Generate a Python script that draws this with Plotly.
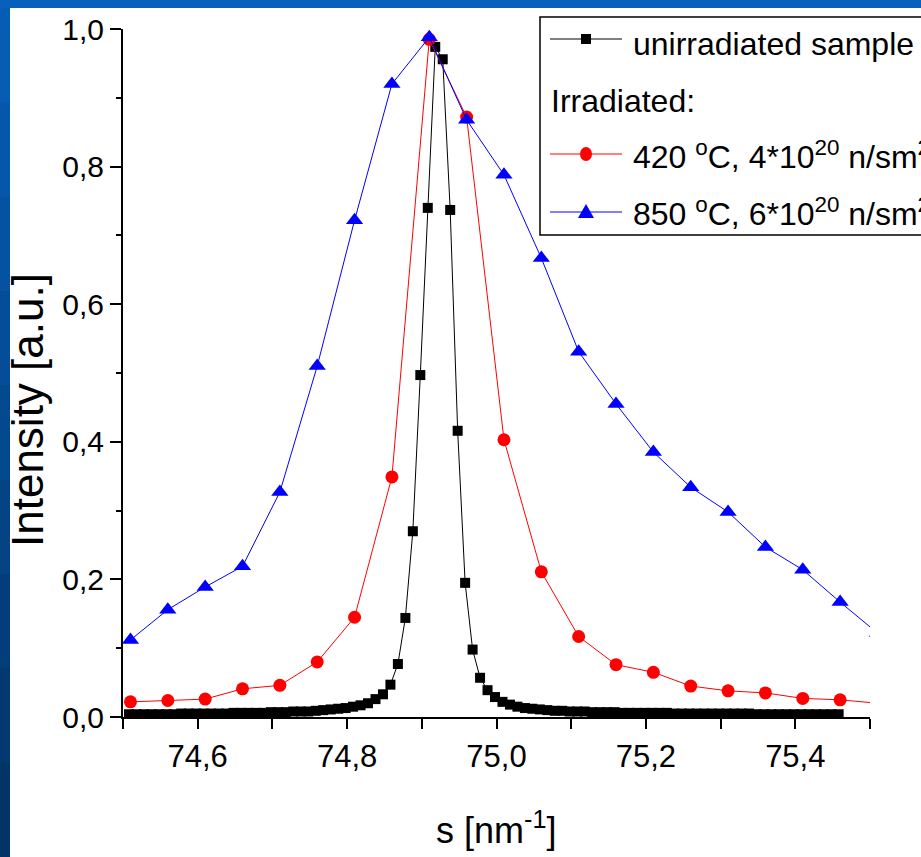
import plotly.graph_objects as go

# ---- data -------------------------------------------------------------
# scattering vector for the two irradiated samples
s_irr = [74.51, 74.56, 74.61, 74.66, 74.71, 74.76, 74.81, 74.86, 74.91, 74.96,
         75.01, 75.06, 75.11, 75.16, 75.21, 75.26, 75.31, 75.36, 75.41, 75.46, 75.51]

int_420 = [0.022, 0.024, 0.026, 0.041, 0.046, 0.080, 0.145, 0.349, 0.985, 0.872,
           0.403, 0.211, 0.117, 0.076, 0.065, 0.045, 0.038, 0.035, 0.027, 0.025, 0.020]

int_850 = [0.112, 0.156, 0.189, 0.219, 0.327, 0.510, 0.722, 0.920, 0.988, 0.868,
           0.788, 0.667, 0.531, 0.455, 0.385, 0.334, 0.298, 0.247, 0.214, 0.167, 0.122]

# scattering vector for the unirradiated sample (finer step)
s_unirr = [
    74.508, 74.518, 74.528, 74.538, 74.548, 74.558, 74.568, 74.578, 74.588, 74.598,
    74.608, 74.618, 74.628, 74.638, 74.648, 74.658, 74.668, 74.678, 74.688, 74.698,
    74.708, 74.718, 74.728, 74.738, 74.748, 74.758, 74.768, 74.778, 74.788, 74.798,
    74.808, 74.818, 74.828, 74.838, 74.848, 74.858, 74.868, 74.878, 74.888, 74.898,
    74.908, 74.918, 74.928, 74.938, 74.948, 74.958, 74.968, 74.978, 74.988, 74.998,
    75.008, 75.018, 75.028, 75.038, 75.048, 75.058, 75.068, 75.078, 75.088, 75.098,
    75.108, 75.118, 75.128, 75.138, 75.148, 75.158, 75.168, 75.178, 75.188, 75.198,
    75.208, 75.218, 75.228, 75.238, 75.248, 75.258, 75.268, 75.278, 75.288, 75.298,
    75.308, 75.318, 75.328, 75.338, 75.348, 75.358, 75.368, 75.378, 75.388, 75.398,
    75.408, 75.418, 75.428, 75.438, 75.448, 75.458]

int_unirr = [
    0.004, 0.004, 0.004, 0.004, 0.004, 0.004, 0.004, 0.005, 0.005, 0.005,
    0.005, 0.005, 0.005, 0.005, 0.006, 0.006, 0.006, 0.006, 0.006, 0.007,
    0.007, 0.007, 0.008, 0.008, 0.008, 0.009, 0.010, 0.011, 0.012, 0.013,
    0.015, 0.017, 0.020, 0.026, 0.033, 0.047, 0.077, 0.144, 0.270, 0.497,
    0.740, 0.974, 0.956, 0.737, 0.416, 0.195, 0.098, 0.057, 0.039, 0.029,
    0.022, 0.018, 0.015, 0.013, 0.012, 0.011, 0.010, 0.009, 0.009, 0.008,
    0.008, 0.008, 0.007, 0.007, 0.007, 0.007, 0.006, 0.006, 0.006, 0.006,
    0.006, 0.006, 0.006, 0.005, 0.005, 0.005, 0.005, 0.005, 0.005, 0.005,
    0.005, 0.005, 0.005, 0.005, 0.004, 0.004, 0.004, 0.004, 0.004, 0.004,
    0.004, 0.004, 0.004, 0.004, 0.004, 0.004]

series_names = ["unirradiated sample",
                "420 <sup>o</sup>C, 4*10<sup>20</sup> n/sm<sup>2</sup>",
                "850 <sup>o</sup>C, 6*10<sup>20</sup> n/sm<sup>2</sup>"]
group_label = "Irradiated:"

# ---- page geometry (pixels) ------------------------------------------
W, H = 921, 857
L, R, T, B = 123, 870, 29, 717          # plot area edges

def px(x):   # pixel x -> paper x
    return (x - L) / (R - L)

def py(y):   # pixel y -> paper y
    return (B - y) / (B - T)

FONT = "Liberation Sans, Arial, sans-serif"

fig = go.Figure()

fig.add_trace(go.Scatter(
    x=s_unirr, y=int_unirr, mode="lines+markers", name=series_names[0],
    line=dict(color="black", width=1),
    marker=dict(symbol="square", size=10, color="black"),
    showlegend=False))
fig.add_trace(go.Scatter(
    x=s_irr, y=int_420, mode="lines+markers", name=series_names[1],
    line=dict(color="#ff0000", width=1),
    marker=dict(symbol="circle", size=13, color="#ff0000"),
    showlegend=False))
fig.add_trace(go.Scatter(
    x=s_irr, y=int_850, mode="lines+markers", name=series_names[2],
    line=dict(color="#0000ff", width=1),
    marker=dict(symbol="triangle-up", size=15, color="#0000ff"),
    showlegend=False))

shapes = []
# white slide panel on the blue background
shapes.append(dict(type="rect", xref="paper", yref="paper", layer="below",
                   x0=px(10), x1=px(W + 5), y0=py(H + 5), y1=py(8),
                   fillcolor="white", line=dict(width=0)))
# darker gradient along the left slide border
left_cols = ["#075cb4", "#0657ab", "#0552a2", "#054d98", "#04488e",
             "#044384", "#033e7a", "#033970", "#023466"]
band = (H - 8) / len(left_cols)
for k, c in enumerate(left_cols):
    shapes.append(dict(type="rect", xref="paper", yref="paper", layer="below",
                       x0=px(-2), x1=px(10), y0=py(8 + (k + 1) * band + 1),
                       y1=py(8 + k * band), fillcolor=c, line=dict(width=0)))

# legend frame
shapes.append(dict(type="rect", xref="paper", yref="paper",
                   x0=px(540), x1=px(W + 20), y0=py(235), y1=py(17),
                   fillcolor="white", line=dict(color="black", width=1.5)))

# legend samples
rows = [(39, "black", "square"), (154, "#ff0000", "circle"), (212, "#0000ff", "triangle")]
for yy, col, sym in rows:
    shapes.append(dict(type="line", xref="paper", yref="paper",
                       x0=px(550), x1=px(622), y0=py(yy), y1=py(yy),
                       line=dict(color=col, width=1)))
    cx = 586
    if sym == "square":
        shapes.append(dict(type="rect", xref="paper", yref="paper",
                           x0=px(cx - 5), x1=px(cx + 5), y0=py(yy + 5), y1=py(yy - 5),
                           fillcolor=col, line=dict(width=0)))
    elif sym == "circle":
        shapes.append(dict(type="circle", xref="paper", yref="paper",
                           x0=px(cx - 6), x1=px(cx + 6), y0=py(yy + 7), y1=py(yy - 7),
                           fillcolor=col, line=dict(width=0)))
    else:
        path = "M {} {} L {} {} L {} {} Z".format(
            px(cx - 8), py(yy + 6), px(cx + 8), py(yy + 6), px(cx), py(yy - 8))
        shapes.append(dict(type="path", xref="paper", yref="paper", path=path,
                           fillcolor=col, line=dict(width=0)))

annotations = []
leg_font = dict(family=FONT, size=32, color="black")
for text, x0, yc in [(series_names[0], 631, 44), (group_label, 549, 101),
                     (series_names[1], 631, 155), (series_names[2], 631, 212)]:
    annotations.append(dict(text=text, xref="paper", yref="paper", x=px(x0), y=py(yc),
                            xanchor="left", yanchor="middle", showarrow=False,
                            font=leg_font, align="left"))

# axis titles
annotations.append(dict(text="Intensity [a.u.]", xref="paper", yref="paper",
                        x=px(27), y=py(410), textangle=-90, showarrow=False,
                        xanchor="center", yanchor="middle",
                        font=dict(family=FONT, size=44, color="black")))
annotations.append(dict(text="s [nm<sup>-1</sup>]", xref="paper", yref="paper",
                        x=px(496), y=py(828), showarrow=False,
                        xanchor="center", yanchor="middle",
                        font=dict(family=FONT, size=36, color="black")))

fig.update_layout(
    width=W, height=H, autosize=False,
    margin=dict(l=L, r=W - R, t=T, b=H - B, pad=0),
    paper_bgcolor="#0760bb", plot_bgcolor="white",
    separators=",.",
    shapes=shapes, annotations=annotations,
    showlegend=False,
    font=dict(family=FONT, color="black"),
)

fig.update_xaxes(
    range=[74.5, 75.5], showgrid=False, zeroline=False,
    showline=True, linecolor="black", linewidth=2,
    ticks="outside", ticklen=10, tickwidth=2, tickcolor="black",
    tick0=0, dtick=0.2, tickformat=".1f",
    minor=dict(ticks="outside", dtick=0.1, ticklen=10, tickwidth=2, tickcolor="black"),
    tickfont=dict(family=FONT, size=31, color="black"),
    ticklabelstandoff=1,
)
fig.update_yaxes(
    range=[0, 1.0], showgrid=False, zeroline=False,
    showline=True, linecolor="black", linewidth=2,
    ticks="outside", ticklen=11, tickwidth=2, tickcolor="black",
    tick0=0, dtick=0.2, tickformat=".1f",
    minor=dict(ticks="outside", dtick=0.1, ticklen=5, tickwidth=2, tickcolor="black"),
    tickfont=dict(family=FONT, size=30, color="black"),
    ticklabelstandoff=0,
)

fig.write_html("out.html")
